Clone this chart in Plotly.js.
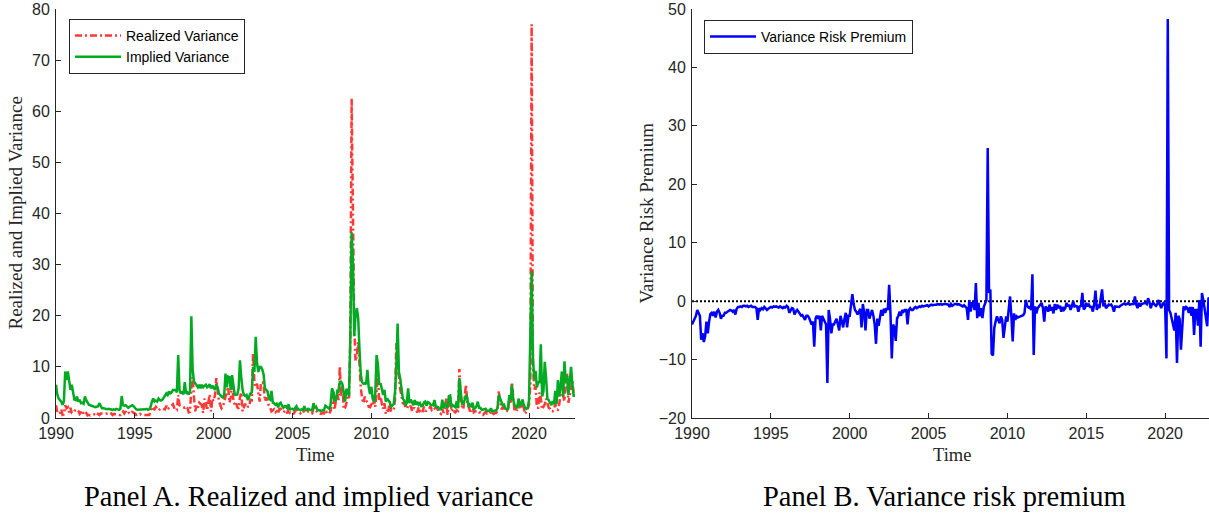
<!DOCTYPE html>
<html>
<head>
<meta charset="utf-8">
<script src="https://cdn.plot.ly/plotly-3.0.1.min.js"></script>
<style>html,body{margin:0;padding:0;background:#fff;}#chart{width:1209px;height:514px;}</style>
</head>
<body>
<div id="chart"></div>
<script>
// Monthly data, Jan 1990 - Dec 2022 (12 values per row = one year)
const startYear = 1990;
const xTickVals = [1990, 1995, 2000, 2005, 2010, 2015, 2020];
const xTickText = ["1990", "1995", "2000", "2005", "2010", "2015", "2020"];

const realizedVariance = [
  2.5, 1.1, 0.8, 1.0, 1.7, 0.6, 0.7, 2.5, 1.9, 2.1, 1.1, 2.0,   // 1990
  1.0, 1.0, 1.4, 1.5, 1.7, 1.4, 0.8, 1.1, 1.5, 0.8, 1.2, 1.0,   // 1991
  0.5, 0.6, 0.5, 0.6, 0.6, 0.7, 0.5, 0.4, 0.8, 0.6, 0.9, 0.9,   // 1992
  0.9, 0.9, 0.8, 0.9, 1.0, 0.8, 0.9, 0.6, 0.8, 0.8, 0.8, 0.7,   // 1993
  0.6, 0.6, 1.1, 1.3, 0.9, 1.3, 0.8, 1.0, 1.0, 0.8, 1.2, 1.1,   // 1994
  0.9, 0.6, 0.7, 0.6, 0.8, 0.6, 0.6, 0.7, 0.7, 0.6, 0.6, 0.6,   // 1995
  1.4, 2.2, 1.8, 1.7, 2.2, 1.9, 1.5, 1.7, 1.9, 1.8, 1.7, 1.7,   // 1996
  2.4, 1.7, 2.0, 2.3, 2.5, 2.7, 2.0, 1.5, 1.5, 4.5, 2.5, 2.3,   // 1997
  2.2, 2.1, 2.0, 2.3, 2.0, 1.1, 1.2, 5.9, 8.0, 4.1, 1.3, 2.5,   // 1998
  2.0, 3.0, 2.8, 2.5, 1.0, 3.8, 3.0, 1.5, 3.2, 4.6, 1.3, 3.8,   // 1999
  3.3, 4.5, 7.8, 5.5, 3.3, 2.6, 1.9, 2.2, 3.2, 4.2, 5.5, 6.1,   // 2000
  3.0, 4.0, 6.9, 3.5, 2.6, 3.0, 2.1, 1.8, 4.0, 5.0, 1.3, 2.0,   // 2001
  2.8, 2.0, 2.2, 2.2, 3.6, 3.5, 12.8, 7.0, 6.1, 6.7, 4.5, 3.2,  // 2002
  7.0, 7.0, 6.7, 3.3, 4.0, 3.4, 2.3, 2.1, 1.3, 1.5, 1.7, 1.1,   // 2003
  1.3, 0.9, 1.8, 1.8, 1.4, 1.1, 1.3, 1.5, 0.9, 1.9, 1.0, 1.1,   // 2004
  0.9, 0.9, 1.4, 1.6, 1.2, 1.0, 0.9, 1.2, 1.0, 1.8, 1.0, 1.1,   // 2005
  1.3, 1.1, 1.0, 0.9, 1.9, 1.4, 1.4, 1.0, 1.0, 0.9, 0.8, 1.0,   // 2006
  0.9, 1.6, 1.2, 1.3, 0.9, 1.4, 2.6, 5.4, 1.6, 3.3, 4.7, 3.5,   // 2007
  10.1, 4.2, 6.3, 1.7, 2.0, 2.8, 4.2, 3.8, 15.7, 62.5, 32.0, 18.0, // 2008
  11.1, 12.2, 14.9, 9.8, 5.8, 3.8, 2.9, 4.2, 3.4, 3.1, 2.2, 2.1, // 2009
  2.6, 2.3, 3.9, 2.2, 5.4, 8.4, 3.3, 4.2, 2.8, 1.8, 2.9, 0.8,   // 2010
  1.4, 1.4, 3.3, 1.4, 1.3, 1.7, 3.5, 14.6, 9.3, 8.1, 5.6, 4.3,  // 2011
  2.9, 2.9, 2.1, 1.8, 2.3, 2.0, 2.4, 1.3, 1.9, 1.9, 1.6, 1.1,   // 2012
  2.1, 1.4, 1.7, 1.2, 2.2, 1.4, 1.4, 1.6, 1.8, 2.3, 1.6, 1.9,   // 2013
  2.0, 1.4, 2.2, 1.2, 0.9, 0.8, 1.8, 1.0, 2.1, 3.8, 0.6, 3.1,   // 2014
  4.1, 1.3, 1.9, 1.3, 1.1, 1.5, 1.4, 9.6, 4.0, 2.2, 1.7, 4.0,   // 2015
  6.5, 3.1, 1.9, 1.4, 1.4, 2.4, 1.1, 1.3, 1.3, 1.4, 1.1, 1.1,   // 2016
  0.7, 0.6, 0.9, 1.2, 0.9, 1.0, 0.8, 1.4, 1.0, 0.8, 1.0, 1.0,   // 2017
  1.4, 5.3, 3.2, 1.7, 2.2, 1.7, 1.3, 1.4, 1.3, 4.2, 3.0, 7.0,   // 2018
  3.4, 1.3, 1.7, 1.6, 3.2, 1.7, 2.2, 3.8, 2.0, 0.8, 1.3, 1.7,   // 2019
  2.6, 6.3, 77.0, 10.2, 5.6, 6.2, 2.0, 2.0, 5.0, 3.8, 1.7, 2.2, // 2020
  2.7, 3.8, 2.9, 2.0, 1.8, 1.3, 1.3, 1.7, 2.8, 1.7, 1.6, 2.7,   // 2021
  4.7, 4.9, 4.4, 3.3, 8.3, 8.4, 3.0, 4.2, 5.7, 7.3, 4.5, 4.3    // 2022
];

const impliedVariance = [
  6.5, 4.6, 3.8, 3.5, 3.2, 2.6, 3.2, 9.1, 7.4, 9.1, 7.1, 5.5,   // 1990
  6.5, 4.5, 3.6, 3.5, 4.2, 3.2, 3.6, 2.9, 3.0, 2.8, 4.2, 3.5,   // 1991
  3.0, 2.6, 2.5, 2.4, 2.2, 2.2, 2.1, 2.2, 2.3, 2.9, 2.2, 1.9,   // 1992
  1.9, 1.8, 1.8, 1.7, 1.8, 1.7, 1.7, 1.6, 1.7, 1.6, 1.8, 1.7,   // 1993
  1.6, 1.8, 4.3, 2.5, 2.4, 2.5, 2.2, 2.0, 2.2, 2.3, 2.5, 2.3,   // 1994
  1.9, 1.7, 1.6, 1.6, 1.7, 1.6, 1.7, 1.6, 1.7, 1.8, 1.6, 1.7,   // 1995
  2.2, 3.2, 3.8, 3.2, 3.4, 3.2, 3.8, 3.5, 3.4, 3.6, 4.0, 4.2,   // 1996
  4.8, 4.5, 5.2, 4.8, 5.0, 5.5, 5.5, 5.5, 5.0, 12.3, 5.5, 4.8,  // 1997
  5.2, 4.6, 7.0, 4.8, 5.0, 4.6, 5.2, 19.9, 9.5, 7.1, 6.8, 6.5,  // 1998
  6.0, 6.5, 5.8, 6.5, 6.0, 6.3, 6.5, 6.0, 6.2, 6.6, 5.8, 6.3,   // 1999
  5.8, 5.5, 6.6, 6.0, 4.8, 4.4, 4.2, 4.0, 4.5, 8.7, 6.0, 8.1,   // 2000
  8.0, 5.5, 8.4, 6.5, 4.6, 4.5, 4.6, 5.8, 11.3, 8.0, 5.5, 4.5,  // 2001
  4.3, 4.5, 3.5, 4.2, 4.8, 5.0, 10.0, 9.0, 15.9, 10.7, 9.0, 10.0, // 2002
  10.0, 9.5, 8.5, 5.8, 5.5, 5.2, 3.8, 3.6, 5.3, 3.0, 2.9, 2.6,  // 2003
  2.8, 2.1, 2.8, 3.0, 2.4, 2.0, 2.3, 2.3, 1.8, 2.7, 1.7, 1.8,   // 2004
  1.8, 1.6, 2.0, 2.3, 1.8, 1.6, 1.5, 1.7, 1.6, 2.3, 1.6, 1.6,   // 2005
  1.8, 1.6, 1.5, 1.5, 2.9, 1.9, 2.2, 1.6, 1.5, 1.4, 1.4, 1.5,   // 2006
  1.5, 2.4, 2.1, 2.0, 1.8, 2.6, 5.8, 5.2, 3.4, 3.5, 5.2, 5.0,   // 2007
  7.0, 7.1, 6.6, 4.3, 3.2, 5.7, 5.2, 4.3, 15.5, 36.3, 30.6, 16.0, // 2008
  20.1, 21.5, 19.5, 13.3, 8.4, 7.0, 6.7, 6.8, 6.6, 9.4, 6.0, 4.7, // 2009
  6.1, 3.8, 3.1, 4.8, 12.3, 10.5, 6.5, 6.8, 5.6, 4.5, 5.5, 3.2, // 2010
  3.8, 3.4, 3.1, 2.2, 2.4, 2.7, 5.0, 10.0, 18.5, 9.0, 7.7, 5.5, // 2011
  3.8, 3.4, 2.4, 3.0, 5.8, 2.9, 3.6, 3.1, 2.5, 3.5, 2.6, 3.2,   // 2012
  2.6, 2.9, 2.3, 2.4, 3.0, 3.2, 2.4, 3.1, 3.0, 2.6, 2.5, 2.5,   // 2013
  3.5, 2.3, 2.2, 2.1, 1.7, 1.7, 3.6, 1.9, 2.9, 2.4, 2.0, 4.3,   // 2014
  4.4, 2.2, 2.5, 2.3, 2.1, 3.3, 1.9, 7.8, 5.5, 2.8, 2.9, 3.5,   // 2015
  4.5, 4.0, 2.2, 2.6, 2.2, 3.0, 1.8, 1.9, 2.3, 3.2, 2.0, 2.0,   // 2016
  1.6, 1.6, 1.7, 1.8, 1.4, 1.4, 1.4, 1.9, 1.3, 1.4, 1.5, 1.5,   // 2017
  1.9, 4.5, 3.8, 2.9, 2.5, 2.6, 1.8, 1.8, 1.6, 4.5, 3.5, 6.5,   // 2018
  3.5, 2.5, 2.2, 1.9, 3.8, 2.5, 2.7, 3.6, 2.6, 2.0, 1.8, 2.0,   // 2019
  3.5, 16.1, 28.7, 11.7, 7.6, 9.2, 6.0, 7.0, 7.0, 14.4, 4.2, 5.2, // 2020
  11.0, 7.8, 3.8, 3.5, 2.8, 2.5, 3.3, 2.7, 5.3, 2.7, 7.4, 4.2,  // 2021
  6.2, 9.1, 4.2, 11.1, 6.9, 8.2, 4.5, 6.7, 10.0, 6.7, 4.2, 4.7  // 2022
];

const varianceRiskPremium = [
  -4.0, -3.5, -3.0, -2.5, -1.5, -2.0, -2.5, -6.6, -5.5, -7.0, -6.0, -3.5, // 1990
  -5.5, -3.5, -2.2, -2.0, -2.5, -1.8, -2.8, -1.8, -1.5, -2.0, -3.0, -2.5, // 1991
  -2.5, -2.0, -2.0, -1.8, -1.6, -1.5, -1.6, -1.8, -1.5, -2.3, -1.3, -1.0, // 1992
  -1.0, -0.9, -1.0, -0.8, -0.8, -0.9, -0.8, -1.0, -0.9, -0.8, -1.0, -1.0, // 1993
  -1.0, -1.2, -3.2, -1.2, -1.5, -1.2, -1.4, -1.0, -1.2, -1.5, -1.3, -1.2, // 1994
  -1.0, -1.1, -0.9, -1.0, -0.9, -1.0, -1.1, -0.9, -1.0, -1.2, -1.0, -1.1, // 1995
  -0.8, -1.0, -2.0, -1.5, -1.2, -1.3, -2.3, -1.8, -1.5, -1.8, -2.3, -2.5, // 1996
  -2.4, -2.8, -3.2, -2.5, -2.5, -2.8, -3.5, -4.0, -3.5, -7.8, -3.0, -2.5, // 1997
  -3.0, -2.5, -5.0, -2.5, -3.0, -3.5, -4.0, -14.0, -1.5, -3.0, -5.5, -4.0, // 1998
  -4.0, -3.5, -3.0, -4.0, -5.0, -2.5, -3.5, -4.5, -3.0, -2.0, -4.5, -2.5, // 1999
  -2.5, -1.0, 1.2, -0.5, -1.5, -1.8, -2.3, -1.8, -1.3, -4.5, -0.5, -2.0,  // 2000
  -5.0, -1.5, -1.5, -3.0, -2.0, -1.5, -2.5, -4.0, -7.3, -3.0, -4.2, -2.5, // 2001
  -1.5, -2.5, -1.3, -2.0, -1.2, -1.5, 2.8, -2.0, -9.8, -4.0, -4.5, -6.8,  // 2002
  -3.0, -2.5, -1.8, -2.5, -1.5, -1.8, -1.5, -1.5, -4.0, -1.5, -1.2, -1.5, // 2003
  -1.5, -1.2, -1.0, -1.2, -1.0, -0.9, -1.0, -0.8, -0.9, -0.8, -0.7, -0.7, // 2004
  -0.9, -0.7, -0.6, -0.7, -0.6, -0.6, -0.6, -0.5, -0.6, -0.5, -0.6, -0.5, // 2005
  -0.5, -0.5, -0.5, -0.6, -1.0, -0.5, -0.8, -0.6, -0.5, -0.5, -0.6, -0.5, // 2006
  -0.6, -0.8, -0.9, -0.7, -0.9, -1.2, -3.2, 0.2, -1.8, -0.2, -0.5, -1.5,  // 2007
  3.1, -2.9, -0.3, -2.6, -1.2, -2.9, -1.0, -0.5, 0.2, 26.2, 1.4, 2.0,     // 2008
  -9.0, -9.3, -4.6, -3.5, -2.6, -3.2, -3.8, -2.6, -3.2, -6.3, -3.8, -2.6, // 2009
  -3.5, -1.5, 0.8, -2.6, -6.9, -2.1, -3.2, -2.6, -2.8, -2.7, -2.6, -2.4,  // 2010
  -2.4, -2.0, 0.2, -0.8, -1.1, -1.0, -1.5, 4.6, -9.2, -0.9, -2.1, -1.2,   // 2011
  -0.9, -0.5, -0.3, -1.2, -3.5, -0.9, -1.2, -1.8, -0.6, -1.6, -1.0, -2.1, // 2012
  -0.5, -1.5, -0.6, -1.2, -0.8, -1.8, -1.0, -1.5, -1.2, -0.3, -0.9, -0.6, // 2013
  -1.5, -0.9, 0.0, -0.9, -0.8, -0.9, -1.8, -0.9, -0.8, 1.4, -1.4, -1.2,   // 2014
  -0.3, -0.9, -0.6, -1.0, -1.0, -1.8, -0.5, 1.8, -1.5, -0.6, -1.2, 0.5,   // 2015
  2.0, -0.9, -0.3, -1.2, -0.8, -0.6, -0.7, -0.6, -1.0, -1.8, -0.9, -0.9,  // 2016
  -0.9, -1.0, -0.8, -0.6, -0.5, -0.4, -0.6, -0.5, -0.3, -0.6, -0.5, -0.5, // 2017
  -0.5, 0.8, -0.6, -1.2, -0.3, -0.9, -0.5, -0.4, -0.3, -0.3, -0.5, 0.5,   // 2018
  -0.1, -1.2, -0.5, -0.3, -0.6, -0.8, -0.5, 0.2, -0.6, -1.2, -0.5, -0.3,  // 2019
  -0.9, -9.8, 48.3, -1.5, -2.0, -3.0, -4.0, -5.0, -2.0, -10.6, -2.5, -3.0, // 2020
  -8.3, -4.0, -0.9, -1.5, -1.0, -1.2, -2.0, -1.0, -2.5, -1.0, -5.8, -1.5, // 2021
  -1.5, -4.2, 0.2, -7.8, 1.4, 0.2, -1.5, -2.5, -4.3, 0.6, 0.3, -0.4       // 2022
];

// time axis: one point per month
const time = realizedVariance.map((_, i) => startYear + i / 12);

const axisColor = '#262626';
const tickFont = {family: 'Liberation Sans, Arial, sans-serif', size: 16, color: axisColor};
const serif = 'Liberation Serif, Times New Roman, serif';

function xAxis(domain, range) {
  return {
    domain: domain, range: range, tickvals: xTickVals, ticktext: xTickText,
    ticks: 'inside', ticklen: 5, tickwidth: 1, tickcolor: axisColor,
    showline: true, linecolor: axisColor, linewidth: 1, mirror: false,
    showgrid: false, zeroline: false, tickfont: tickFont, ticklabelstandoff: 1,
    fixedrange: true
  };
}
function yAxis(domain, range, anchor) {
  return {
    domain: domain, range: range, dtick: 10, anchor: anchor,
    ticks: 'inside', ticklen: 5, tickwidth: 1, tickcolor: axisColor,
    showline: true, linecolor: axisColor, linewidth: 1, mirror: false,
    showgrid: false, zeroline: false, tickfont: tickFont, ticklabelstandoff: 2,
    fixedrange: true
  };
}

const W = 1209, H = 514;
const yDom = [96 / H, 505 / H];

const traces = [
  {x: time, y: realizedVariance, type: 'scatter', mode: 'lines', name: 'Realized Variance',
   line: {color: '#FF3838', width: 2.5, dash: '7px,3px,2px,3px'}, xaxis: 'x', yaxis: 'y', legend: 'legend'},
  {x: time, y: impliedVariance, type: 'scatter', mode: 'lines', name: 'Implied Variance',
   line: {color: '#00AA22', width: 2.5}, xaxis: 'x', yaxis: 'y', legend: 'legend'},
  {x: time, y: varianceRiskPremium, type: 'scatter', mode: 'lines', name: 'Variance Risk Premium',
   line: {color: '#0000FF', width: 2.5}, xaxis: 'x2', yaxis: 'y2', legend: 'legend2'}
];

const legendFont = {family: 'Liberation Sans, Arial, sans-serif', size: 14, color: '#000'};
const layout = {
  width: W, height: H,
  margin: {l: 0, r: 0, t: 0, b: 0},
  paper_bgcolor: '#fff', plot_bgcolor: '#fff',
  showlegend: true,
  xaxis: xAxis([56 / W, 575 / W], [1990, 2022.917]),
  yaxis: yAxis(yDom, [0, 80], 'x'),
  xaxis2: Object.assign(xAxis([692 / W, 1], [1990, 2022.78]), {anchor: 'y2'}),
  yaxis2: yAxis(yDom, [-20, 50], 'x2'),
  legend: {x: 69 / W, y: 1 - 19 / H, xanchor: 'left', yanchor: 'top', bgcolor: '#fff',
           bordercolor: axisColor, borderwidth: 1, font: legendFont, itemwidth: 46, tracegroupgap: 0},
  legend2: {x: 704 / W, y: 1 - 20 / H, xanchor: 'left', yanchor: 'top', bgcolor: '#fff',
            bordercolor: axisColor, borderwidth: 1, font: legendFont, itemwidth: 46},
  shapes: [
    {type: 'line', xref: 'x2', yref: 'y2', x0: 1990, x1: 2022.917, y0: 0, y1: 0,
     line: {color: '#000', width: 2, dash: '2px,2px'}, layer: 'below'}
  ],
  annotations: [
    {text: 'Realized and Implied Variance', xref: 'paper', yref: 'paper', x: 15 / W, y: 1 - 213.5 / H,
     textangle: -90, showarrow: false, xanchor: 'center', yanchor: 'middle', font: {family: serif, size: 19, color: axisColor}},
    {text: 'Variance Risk Premium', xref: 'paper', yref: 'paper', x: 646 / W, y: 1 - 213.5 / H,
     textangle: -90, showarrow: false, xanchor: 'center', yanchor: 'middle', font: {family: serif, size: 19, color: axisColor}},
    {text: 'Time', xref: 'paper', yref: 'paper', x: 315 / W, y: 1 - 455 / H,
     showarrow: false, xanchor: 'center', yanchor: 'middle', font: {family: serif, size: 18.5, color: axisColor}},
    {text: 'Time', xref: 'paper', yref: 'paper', x: 952 / W, y: 1 - 455 / H,
     showarrow: false, xanchor: 'center', yanchor: 'middle', font: {family: serif, size: 18.5, color: axisColor}},
    {text: 'Panel A. Realized and implied variance', xref: 'paper', yref: 'paper', x: 308.5 / W, y: 1 - 496 / H,
     showarrow: false, xanchor: 'center', yanchor: 'middle', font: {family: serif, size: 28.5, color: '#000'}},
    {text: 'Panel B. Variance risk premium', xref: 'paper', yref: 'paper', x: 944.5 / W, y: 1 - 496 / H,
     showarrow: false, xanchor: 'center', yanchor: 'middle', font: {family: serif, size: 28.5, color: '#000'}}
  ]
};

Plotly.newPlot('chart', traces, layout, {displayModeBar: false, staticPlot: true});
</script>
</body>
</html>
